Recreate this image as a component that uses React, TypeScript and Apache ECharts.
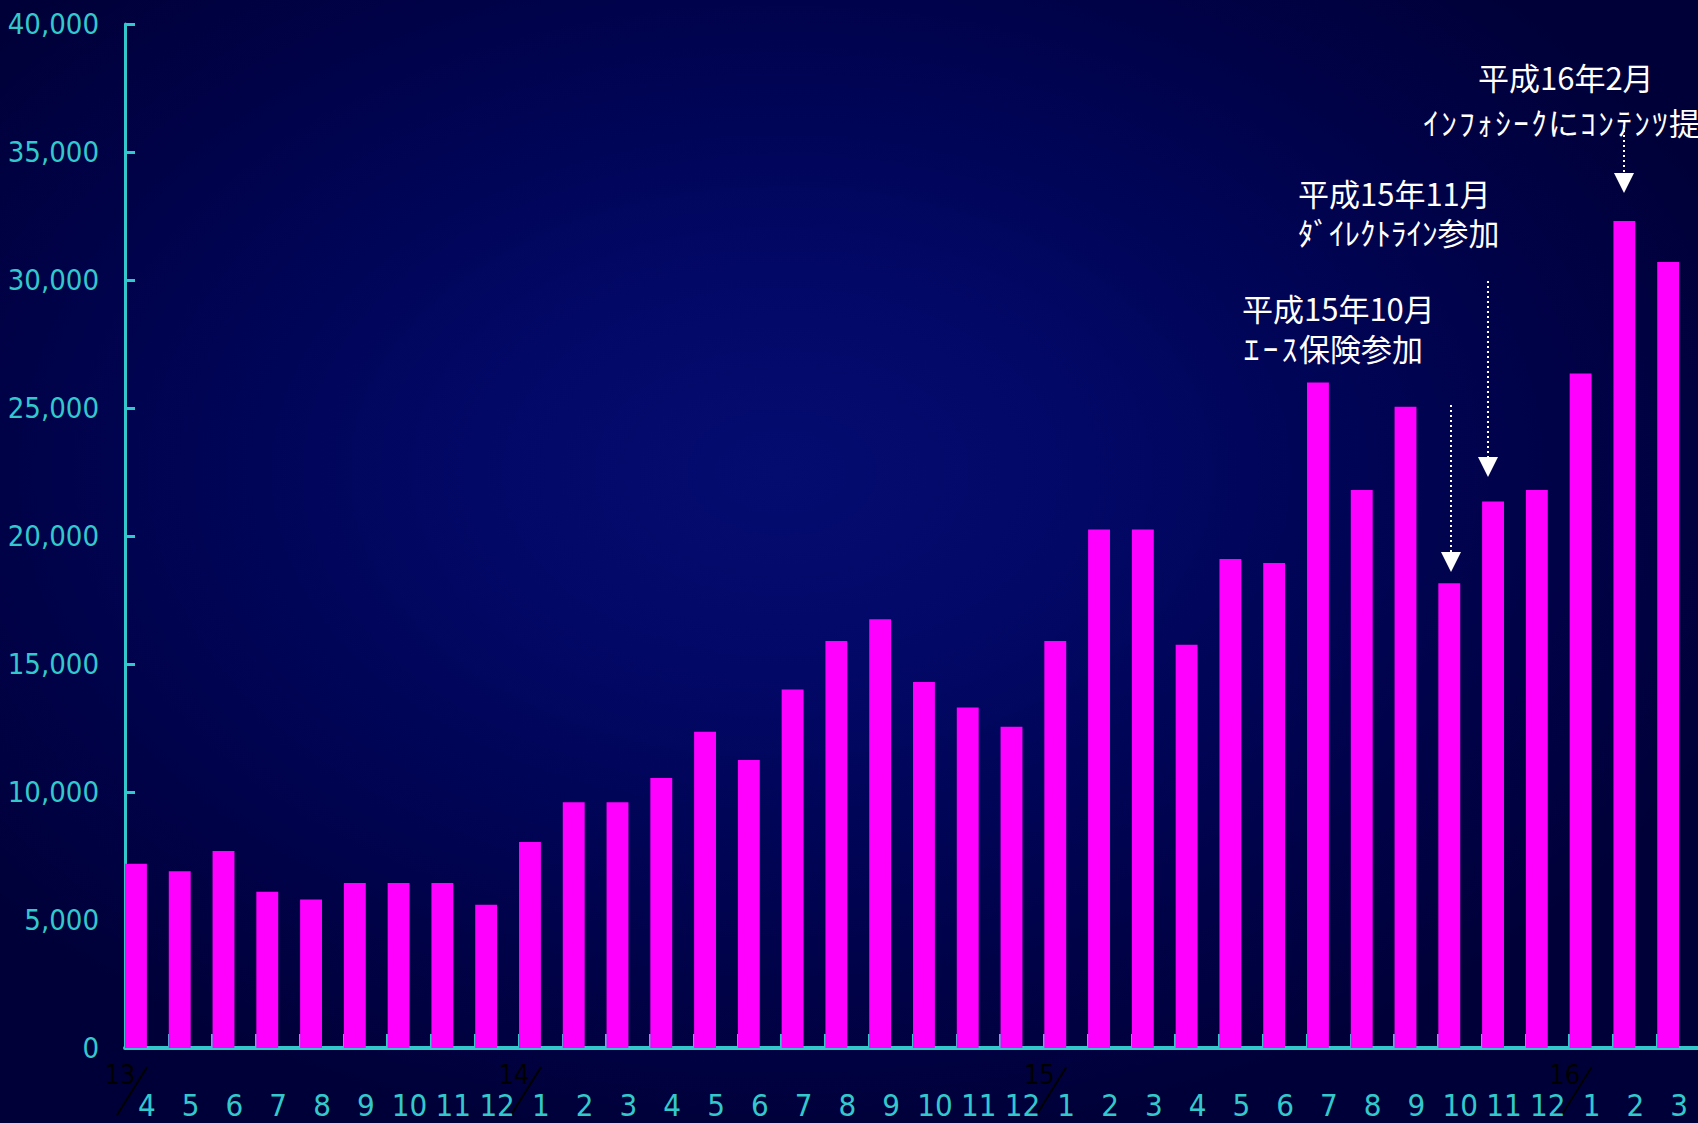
import React, { useEffect, useRef } from 'react';
import * as echarts from 'echarts';

// Month labels (平成13年4月 〜 平成16年3月)
const months = [
  '4', '5', '6', '7', '8', '9', '10', '11', '12',
  '1', '2', '3', '4', '5', '6', '7', '8', '9', '10', '11', '12',
  '1', '2', '3', '4', '5', '6', '7', '8', '9', '10', '11', '12',
  '1', '2', '3',
];

// Monthly counts
const counts = [
  7200, 6900, 7700, 6100, 5800, 6450, 6450, 6450, 5600,
  8050, 9600, 9600, 10550, 12350, 11250, 14000, 15900, 16750, 14300, 13300, 12550,
  15900, 20250, 20250, 15750, 19100, 18950, 26000, 21800, 25050, 18150, 21350, 21800,
  26350, 32300, 30700,
];

// Year markers (label, index of first month of that year on the axis)
const yearLabels = ['13', '14', '15', '16'];
const yearStartIndex = [0, 9, 21, 33];

const yMin = 0;
const yMax = 40000;
const yStep = 5000;

const CYAN = '#33C9CC';
const MAGENTA = '#FF00FF';
const NUM_FONT = "'Liberation Sans Narrow','DejaVu Sans Condensed',sans-serif";
const JP_FONT = "'Noto Sans CJK JP','Noto Sans',sans-serif";

const isHalfWidth = (ch: string) => {
  const c = ch.charCodeAt(0);
  return c >= 0xff61 && c <= 0xff9f;
};

export default function App() {
  const ref = useRef<HTMLDivElement>(null);

  useEffect(() => {
    document.body.style.margin = '0';
    if (!ref.current) return;
    const chart = echarts.init(ref.current, null, { renderer: 'svg' });

    const gridLeft = 125;
    const gridRight = -3;
    const W = 1698;
    const catW = (W - gridLeft - gridRight) / months.length;

    const jpText = (text: string, x: number, y: number, size = 31) => ({
      type: 'text',
      x,
      y,
      silent: true,
      style: {
        text,
        fill: '#FFFFFF',
        font: `normal ${size}px ${JP_FONT}`,
        textAlign: 'left',
        verticalAlign: 'middle',
        textVerticalAlign: 'middle',
      },
    });

    // text with wider half-width kana (each kana given a fixed box width)
    const jpWideKana = (text: string, x: number, y: number, kanaW: number, size = 31) => {
      const rt = Array.from(text)
        .map((ch) => (isHalfWidth(ch) ? `{h|${ch}}` : `{f|${ch}}`))
        .join('');
      return {
        type: 'text',
        x,
        y,
        silent: true,
        style: {
          text: rt,
          fill: '#FFFFFF',
          font: `normal ${size}px ${JP_FONT}`,
          textAlign: 'left',
          verticalAlign: 'middle',
          textVerticalAlign: 'middle',
          rich: {
            h: {
              width: kanaW,
              align: 'center',
              fill: '#FFFFFF',
              fontSize: size,
              fontFamily: JP_FONT,
            },
            f: {
              fill: '#FFFFFF',
              fontSize: size,
              fontFamily: JP_FONT,
            },
          },
        },
      };
    };

    const arrow = (x: number, y1: number, y2: number) => [
      {
        type: 'line',
        silent: true,
        shape: { x1: x, y1, x2: x, y2 },
        style: { stroke: '#FFFFFF', lineWidth: 2, lineDash: [2, 3] },
      },
      {
        type: 'polygon',
        silent: true,
        shape: { points: [[x - 10, y2], [x + 10, y2], [x, y2 + 20]] },
        style: { fill: '#FFFFFF' },
      },
    ];

    const yearGraphics: any[] = [];
    yearLabels.forEach((lab, i) => {
      const bx = gridLeft + yearStartIndex[i] * catW;
      yearGraphics.push({
        type: 'text',
        x: bx - 5,
        y: 1074,
        silent: true,
        style: {
          text: lab,
          fill: '#000000',
          font: `normal 27px ${NUM_FONT}`,
          textAlign: 'center',
          verticalAlign: 'middle',
          textVerticalAlign: 'middle',
        },
      });
      yearGraphics.push({
        type: 'line',
        silent: true,
        shape: { x1: bx + 22, y1: 1067, x2: bx - 8, y2: 1115 },
        style: { stroke: '#000000', lineWidth: 2 },
      });
    });

    chart.setOption({
      animation: false,
      backgroundColor: 'transparent',
      grid: {
        left: gridLeft,
        right: gridRight,
        top: 24,
        bottom: 75,
        containLabel: false,
        outerBoundsMode: 'none',
      },
      xAxis: {
        type: 'category',
        data: months,
        boundaryGap: true,
        axisLine: { show: true, lineStyle: { color: CYAN, width: 4 } },
        axisTick: {
          show: true,
          inside: true,
          length: 14,
          interval: 0,
          alignWithLabel: false,
          lineStyle: { color: CYAN, width: 3 },
        },
        axisLabel: {
          interval: 0,
          color: CYAN,
          fontSize: 31,
          fontFamily: NUM_FONT,
          margin: 41,
        },
        splitLine: { show: false },
      },
      yAxis: {
        type: 'value',
        min: yMin,
        max: yMax,
        interval: yStep,
        axisLine: { show: true, lineStyle: { color: CYAN, width: 3 } },
        axisTick: {
          show: true,
          inside: true,
          length: 10,
          lineStyle: { color: CYAN, width: 3 },
        },
        axisLabel: {
          color: CYAN,
          fontSize: 29,
          fontFamily: NUM_FONT,
          margin: 26,
          formatter: (v: number) => v.toLocaleString('en-US'),
        },
        splitLine: { show: false },
      },
      series: [
        {
          type: 'bar',
          data: counts,
          itemStyle: { color: MAGENTA },
          barGap: '0%',
          barCategoryGap: '0%',
          silent: true,
        },
        {
          type: 'bar',
          data: months.map(() => null),
          itemStyle: { color: 'transparent' },
          barGap: '0%',
          barCategoryGap: '0%',
          silent: true,
        },
      ],
      graphic: [
        jpText('平成16年2月', 1478, 76),
        jpWideKana('ｲﾝﾌｫｼｰｸにｺﾝﾃﾝﾂ提供', 1422, 121, 18),
        jpText('平成15年11月', 1298, 192),
        jpText('ﾀﾞｲﾚｸﾄﾗｲﾝ参加', 1298, 231),
        jpText('平成15年10月', 1242, 307),
        jpWideKana('ｴｰｽ保険参加', 1242, 347, 19),
        ...arrow(1451, 405, 552),
        ...arrow(1488, 281, 457),
        ...arrow(1624, 125, 173),
        ...yearGraphics,
      ],
    });

    return () => chart.dispose();
  }, []);

  return (
    <div
      ref={ref}
      style={{
        position: 'absolute',
        left: 0,
        top: 0,
        width: 1698,
        height: 1123,
        background:
          'radial-gradient(ellipse 60% 60% at 46% 42%, #040c70 0%, #020866 30%, #00034f 65%, #000039 100%)',
      }}
    />
  );
}
